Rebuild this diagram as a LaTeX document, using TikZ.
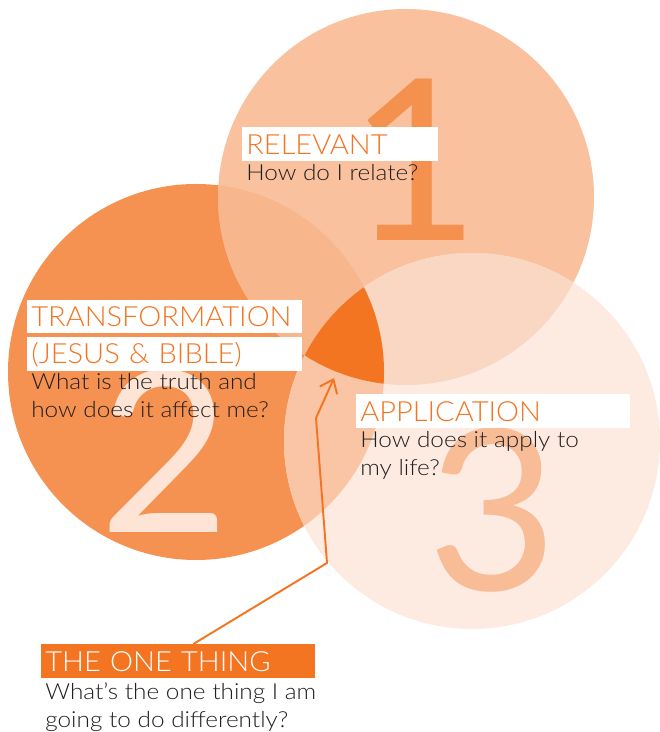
\documentclass[tikz,border=0pt]{standalone}
\usepackage{fontspec}
\setmainfont{Lato Light}[FakeStretch=1.045]
\newfontfamily\questfont{Lato Light}[FakeStretch=1.10]
\newfontfamily\digitfont{Lato}
\usetikzlibrary{arrows.meta}

\definecolor{circone}{HTML}{F9C19D}
\definecolor{circtwo}{HTML}{F59252}
\definecolor{circthree}{HTML}{FDEBE2}
\definecolor{onetwo}{HTML}{F7B68C}
\definecolor{onethree}{HTML}{FAD7C2}
\definecolor{twothree}{HTML}{F9C5A4}
\definecolor{onething}{HTML}{F37521}
\definecolor{numone}{HTML}{F5914F}
\definecolor{numtwo}{HTML}{FDE4D5}
\definecolor{numthree}{HTML}{F8BD97}
\definecolor{bodytext}{HTML}{231F20}

\begin{document}
\begin{tikzpicture}[
    titlebox/.style={anchor=north west, fill=white, text=onething, inner xsep=0.08cm, inner ysep=0pt,
        minimum height=0.68cm, text width=#1, font=\fontsize{15.8}{18}\selectfont},
    question/.style={anchor=north west, inner sep=0pt, align=left, text=bodytext,
        font=\questfont\fontsize{12.6}{15.9}\selectfont},
    bignum/.style={anchor=base, inner sep=0pt, font=\digitfont\fontsize{128}{128}\selectfont}
]
    \useasboundingbox (0,0) rectangle (13.18,14.64);

    % the three circles and their overlaps
    \fill[circtwo] (3.92,7.20) circle (3.76);
    \fill[circone] (8.12,10.70) circle (3.76);
    \fill[circthree] (9.44,5.82) circle (3.76);
    \begin{scope}
        \clip (8.12,10.70) circle (3.76);
        \fill[onetwo] (3.92,7.20) circle (3.76);
        \fill[onethree] (9.44,5.82) circle (3.76);
    \end{scope}
    \begin{scope}
        \clip (3.92,7.20) circle (3.76);
        \fill[twothree] (9.44,5.82) circle (3.76);
        \clip (9.44,5.82) circle (3.76);
        \fill[onething] (8.12,10.70) circle (3.76);
    \end{scope}

    \node[bignum, text=numone] (numA) at (8.30,9.82) {1};
    \node[bignum, text=numtwo] (numB) at (3.29,3.98) {2};
    \node[bignum, text=numthree] (numC) at (9.85,2.82) {3};

    \node[titlebox=3.76cm] (relevant) at (4.84,12.10) {RELEVANT};
    \node[question] (relq) at (4.92,11.36) {How do I relate?};

    \node[titlebox=5.34cm, minimum height=0.66cm] (transf) at (0.54,8.64) {TRANSFORMATION};
    \node[titlebox=5.34cm] (jesus) at (0.54,7.90) {(JESUS \& BIBLE)};
    \node[question] (transq) at (0.62,7.18) {What is the truth and\\how does it affect me?};

    \node[titlebox=5.32cm] (applic) at (7.12,6.76) {APPLICATION};
    \node[question] (applq) at (7.20,6.02) {How does it apply to\\my life?};

    \node[titlebox=5.32cm, fill=onething, text=white] (one) at (0.82,1.76) {THE ONE THING};
    \node[question] (oneq) at (0.90,1.00) {What’s the one thing I am\\going to do differently?};

    % pointer into the middle
    \coordinate (bendA) at (6.54,3.38);
    \coordinate (bendB) at (6.32,6.28);
    \coordinate (tip) at (6.68,7.08);
    \draw[onething, line width=1.1pt, -{Straight Barb[length=2.4mm, width=3.8mm]}]
        ([xshift=0.3cm]one.north) -- (bendA) -- (bendB) -- (tip);
\end{tikzpicture}
\end{document}
